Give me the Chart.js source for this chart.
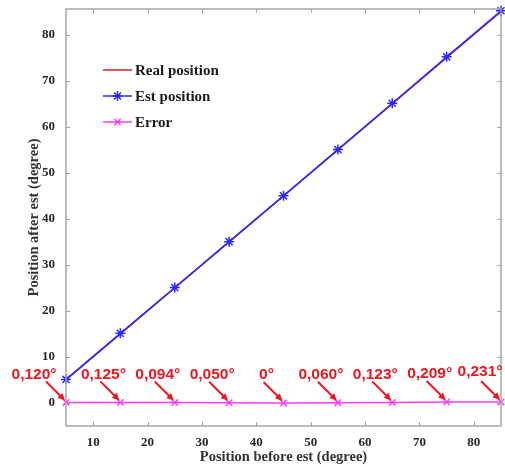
<!DOCTYPE html>
<html>
<head>
<meta charset="utf-8">
<script src="https://cdn.jsdelivr.net/npm/chart.js@4.4.1/dist/chart.umd.min.js"></script>
<style>
    body { margin: 0; background: #ffffff; }
    #canvas { display: block; }
</style>
</head>
<body>
<canvas id="canvas" width="505" height="467"></canvas>
<script>
    "use strict";

    // data
    var positions = [5, 15, 25, 35, 45, 55, 65, 75, 85];
    var realPosition = [5, 15, 25, 35, 45, 55, 65, 75, 85];
    var estPosition = [5.12, 15.125, 25.094, 35.05, 45, 55.06, 65.123, 75.209, 85.231];
    var errorValues = [0.12, 0.125, 0.094, 0.05, 0, 0.06, 0.123, 0.209, 0.231];
    var errorLabels = ['0,120°', '0,125°', '0,094°', '0,050°', '0°', '0,060°', '0,123°', '0,209°', '0,231°'];
    var xTicks = [10, 20, 30, 40, 50, 60, 70, 80];
    var yTicks = [0, 10, 20, 30, 40, 50, 60, 70, 80];

    var ks_serif = '"Liberation Serif", "Times New Roman", serif';
    var ks_sans = '"Liberation Sans", Arial, sans-serif';

    function ks_points(values) {
        return positions.map(function (x, i) {
            return {x: x, y: values[i]};
        });
    }

    // MATLAB style box with inward ticks
    var ksFramePlugin = {
        id: 'ksFrame',
        afterDatasetsDraw: function (chart) {
            var ctx = chart.ctx;
            var a = chart.chartArea;
            var xs = chart.scales.x;
            var ys = chart.scales.y;
            var tl = 4;
            ctx.save();
            ctx.strokeStyle = '#a6a6a6';
            ctx.lineWidth = 1;
            ctx.beginPath();
            xTicks.forEach(function (v) {
                var px = Math.round(xs.getPixelForValue(v)) + 0.5;
                ctx.moveTo(px, a.bottom);
                ctx.lineTo(px, a.bottom - tl);
                ctx.moveTo(px, a.top);
                ctx.lineTo(px, a.top + tl);
            });
            yTicks.forEach(function (v) {
                var py = Math.round(ys.getPixelForValue(v)) + 0.5;
                ctx.moveTo(a.left, py);
                ctx.lineTo(a.left + tl, py);
                ctx.moveTo(a.right, py);
                ctx.lineTo(a.right - tl, py);
            });
            ctx.stroke();
            ctx.lineWidth = 1.5;
            ctx.strokeRect(a.left, a.top, a.right - a.left, a.bottom - a.top);
            ctx.restore();
        }
    };

    // legend drawn inside the axes, no box
    var ksLegendPlugin = {
        id: 'ksLegend',
        afterDraw: function (chart) {
            var ctx = chart.ctx;
            var rows = [70, 96, 122];
            ctx.save();
            ctx.font = 'bold 15px ' + ks_serif;
            ctx.textBaseline = 'middle';
            ctx.textAlign = 'left';
            chart.data.datasets.forEach(function (ds, i) {
                var y = rows[i];
                ctx.strokeStyle = ds.borderColor;
                ctx.lineWidth = 1.5;
                ctx.beginPath();
                ctx.moveTo(103, y);
                ctx.lineTo(132, y);
                ctx.stroke();
                if (ds.pointStyle && ds.pointRadius > 0) {
                    Chart.helpers.drawPoint(ctx, {
                        pointStyle: ds.pointStyle,
                        radius: ds.pointRadius,
                        borderWidth: ds.pointBorderWidth,
                        rotation: 0
                    }, 117.5, y);
                }
                ctx.fillStyle = '#1a1a1a';
                ctx.fillText(ds.label, 135, y + 1);
            });
            ctx.restore();
        }
    };

    // red arrows with error values
    var ksArrowPlugin = {
        id: 'ksArrows',
        afterDraw: function (chart) {
            var ctx = chart.ctx;
            var xs = chart.scales.x;
            var ys = chart.scales.y;
            var last = errorLabels.length - 1;
            ctx.save();
            ctx.font = 'bold 15.5px ' + ks_sans;
            ctx.textAlign = 'center';
            ctx.textBaseline = 'middle';
            ctx.fillStyle = '#f0141e';
            ctx.strokeStyle = '#f0141e';
            ctx.lineWidth = 2;
            errorLabels.forEach(function (text, i) {
                var px = xs.getPixelForValue(positions[i]);
                var py = ys.getPixelForValue(errorValues[i]);
                var tx = px - 17, ty = py - 28;
                if (i === 0) tx = px - 32;                   // pushed off the axis
                if (i === last) { tx = px - 21; ty -= 2; }   // keep inside the page
                ctx.fillText(text, tx, ty);
                var sx = px - 20, sy = py - 21;
                var ex = px - 1, ey = py - 2;
                var ang = Math.atan2(ey - sy, ex - sx);
                var hx = ex - 6 * Math.cos(ang), hy = ey - 6 * Math.sin(ang);
                ctx.beginPath();
                ctx.moveTo(sx, sy);
                ctx.lineTo(hx, hy);
                ctx.stroke();
                ctx.beginPath();
                ctx.moveTo(ex, ey);
                ctx.lineTo(ex - 8 * Math.cos(ang - 0.45), ey - 8 * Math.sin(ang - 0.45));
                ctx.lineTo(ex - 8 * Math.cos(ang + 0.45), ey - 8 * Math.sin(ang + 0.45));
                ctx.closePath();
                ctx.fill();
            });
            ctx.restore();
        }
    };

    var ctx = document.getElementById('canvas').getContext('2d');
    var myChart = new Chart(ctx, {
        type: 'line',
        data: {
            datasets: [{
                label: 'Real position',
                data: ks_points(realPosition),
                borderColor: '#c8202c',
                backgroundColor: '#c8202c',
                borderWidth: 1.5,
                pointRadius: 0,
                pointStyle: false,
                order: 3,
                clip: false
            }, {
                label: 'Est position',
                data: ks_points(estPosition),
                borderColor: '#2b2bff',
                backgroundColor: '#2b2bff',
                borderWidth: 1.5,
                pointStyle: 'star',
                pointRadius: 5,
                pointBorderWidth: 1.5,
                order: 2,
                clip: false
            }, {
                label: 'Error',
                data: ks_points(errorValues),
                borderColor: '#ff3cff',
                backgroundColor: '#ff3cff',
                borderWidth: 1.5,
                pointStyle: 'crossRot',
                pointRadius: 4.5,
                pointBorderWidth: 1.5,
                order: 1,
                clip: false
            }]
        },
        options: {
            responsive: false,
            animation: false,
            layout: {autoPadding: false, padding: {left: 0, right: 4, top: 9, bottom: 0}},
            plugins: {
                legend: {display: false},
                tooltip: {enabled: false}
            },
            scales: {
                x: {
                    type: 'linear',
                    min: 5,
                    max: 85,
                    afterBuildTicks: function (s) {
                        s.ticks = xTicks.map(function (v) { return {value: v}; });
                    },
                    afterFit: function (s) {
                        s.height = 41;
                        s.paddingLeft = 0;
                        s.paddingRight = 0;
                    },
                    grid: {display: false, drawTicks: false},
                    border: {display: false},
                    ticks: {
                        padding: 9,
                        maxRotation: 0,
                        color: '#262626',
                        font: {family: ks_serif, size: 13, weight: 'bold'}
                    },
                    title: {
                        display: true,
                        text: 'Position before est (degree)',
                        color: '#333333',
                        padding: {top: 0, bottom: 1},
                        font: {family: ks_serif, size: 14.5, weight: 'bold'}
                    }
                },
                y: {
                    type: 'linear',
                    min: -5,
                    max: 85.6,
                    afterBuildTicks: function (s) {
                        s.ticks = yTicks.map(function (v) { return {value: v}; });
                    },
                    afterFit: function (s) {
                        s.width = 66;
                        s.paddingTop = 0;
                        s.paddingBottom = 0;
                    },
                    grid: {display: false, drawTicks: false},
                    border: {display: false},
                    ticks: {
                        padding: 11,
                        color: '#262626',
                        font: {family: ks_serif, size: 13, weight: 'bold'}
                    },
                    title: {
                        display: true,
                        text: 'Position after est (degree)',
                        color: '#333333',
                        padding: {top: 26, bottom: 0},
                        font: {family: ks_serif, size: 14.5, weight: 'bold'}
                    }
                }
            }
        },
        plugins: [ksFramePlugin, ksLegendPlugin, ksArrowPlugin]
    });
</script>
</body>
</html>
